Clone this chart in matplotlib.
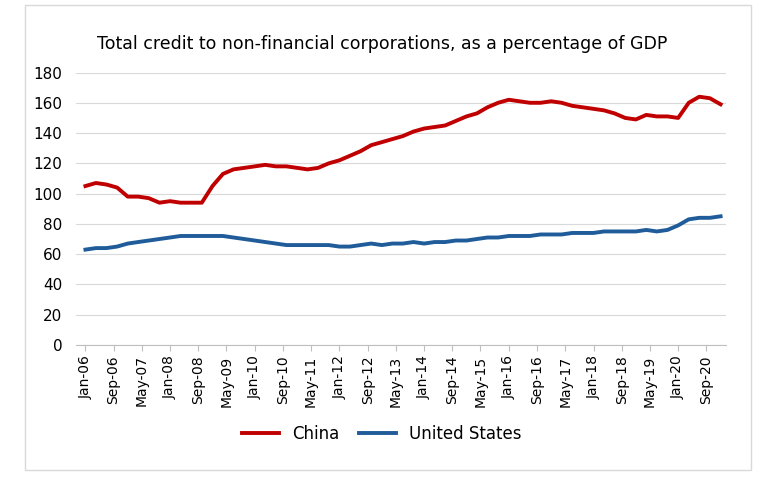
import matplotlib.pyplot as plt
import pandas as pd

dates = pd.date_range("2006-01-01", "2021-01-01", freq="QS")

china = [105, 107, 106, 104,
         98, 98, 97, 94,
         95, 94, 94, 94,
         105, 113, 116, 117,
         118, 119, 118, 118,
         117, 116, 117, 120,
         122, 125, 128, 132,
         134, 136, 138, 141,
         143, 144, 145, 148,
         151, 153, 157, 160,
         162, 161, 160, 160,
         161, 160, 158, 157,
         156, 155, 153, 150,
         149, 152, 151, 151,
         150, 160, 164, 163,
         159]
us = [63, 64, 64, 65,
      67, 68, 69, 70,
      71, 72, 72, 72,
      72, 72, 71, 70,
      69, 68, 67, 66,
      66, 66, 66, 66,
      65, 65, 66, 67,
      66, 67, 67, 68,
      67, 68, 68, 69,
      69, 70, 71, 71,
      72, 72, 72, 73,
      73, 73, 74, 74,
      74, 75, 75, 75,
      75, 76, 75, 76,
      79, 83, 84, 84,
      85]

tick_dates = pd.date_range("2006-01-01", "2020-09-01", freq="8MS")
tick_labels = [d.strftime("%b-%y") for d in tick_dates]

fig = plt.figure(figsize=(7.64, 4.9), dpi=100)
ax = fig.add_axes([0.1, 0.296, 0.85, 0.556])

ax.plot(dates, china, color="#C00000", lw=2.8, label="China")
ax.plot(dates, us, color="#1F5C99", lw=2.8, label="United States")

ax.set_ylim(0, 180)
ax.set_yticks(range(0, 181, 20))
ax.set_xlim(pd.Timestamp("2005-10-15"), pd.Timestamp("2021-02-15"))
ax.set_xticks(tick_dates)
ax.set_xticklabels(tick_labels, rotation=90, fontsize=10)
ax.tick_params(axis="y", labelsize=11, length=0, pad=10)
ax.tick_params(axis="x", length=4, color="#BFBFBF")
ax.grid(axis="y", color="#D9D9D9", lw=0.8)
ax.set_axisbelow(True)
for s in ["top", "right", "left"]:
    ax.spines[s].set_visible(False)
ax.spines["bottom"].set_color("#BFBFBF")

fig.text(0.5, 0.9, "Total credit to non-financial corporations, as a percentage of GDP",
         ha="center", fontsize=12.5)
fig.legend(loc="lower center", bbox_to_anchor=(0.5, 0.065), ncol=2, frameon=False,
           fontsize=12, handlelength=2.2, columnspacing=1.2)

fig.patches.append(plt.Rectangle((0.033, 0.04), 0.95, 0.95, transform=fig.transFigure,
                                 fill=False, edgecolor="#D9D9D9", lw=1))

fig.savefig("out.png")
